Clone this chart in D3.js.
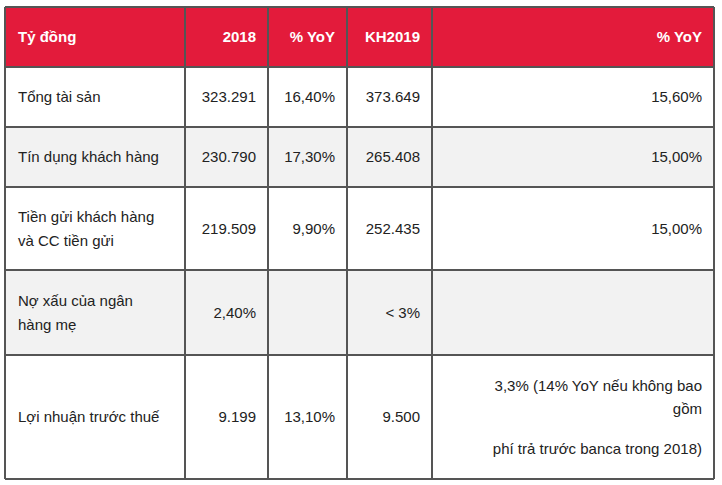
<!doctype html>
<html>
<head>
<meta charset="utf-8">
<script src="https://cdn.jsdelivr.net/npm/d3@7"></script>
<style>
  body { margin: 0; background: #fff; }
  text { font-family: "Liberation Sans", Arial, sans-serif; font-size: 15px; }
</style>
</head>
<body>
<script>
// Table content
const headers = ["Tỷ đồng", "2018", "% YoY", "KH2019", "% YoY"];
const labels = [
  ["Tổng tài sản"],
  ["Tín dụng khách hàng"],
  ["Tiền gửi khách hàng", "và CC tiền gửi"],
  ["Nợ xấu của ngân", "hàng mẹ"],
  ["Lợi nhuận trước thuế"]
];
const values2018 = ["323.291", "230.790", "219.509", "2,40%", "9.199"];
const yoy2018 = ["16,40%", "17,30%", "9,90%", "", "13,10%"];
const plan2019 = ["373.649", "265.408", "252.435", "< 3%", "9.500"];
const yoyPlan = [["15,60%"], ["15,00%"], ["15,00%"], [""],
  ["3,3% (14% YoY nếu không bao", "gồm", "", "phí trả trước banca trong 2018)"]];

// Layout
const width = 722, height = 485;
const colEdges = [5, 185, 268, 347, 432, 714];
const rowEdges = [7, 67, 127, 187, 270, 355, 479];
const lineH = 24;

const svg = d3.select("body").append("svg")
    .attr("width", width).attr("height", height);

const rows = [headers].concat(labels.map((l, i) => [l, [values2018[i]], [yoy2018[i]], [plan2019[i]], yoyPlan[i]]));

rows.forEach((row, r) => {
  const y0 = rowEdges[r], y1 = rowEdges[r + 1];
  const fill = r === 0 ? "#e31b3b" : (r % 2 === 0 ? "#f2f2f2" : "#ffffff");
  svg.append("rect")
      .attr("x", colEdges[0]).attr("y", y0)
      .attr("width", colEdges[5] - colEdges[0]).attr("height", y1 - y0)
      .attr("fill", fill);
  row.forEach((cell, c) => {
    const lines = Array.isArray(cell) ? cell : [cell];
    const left = c === 0;
    const x = left ? colEdges[c] + 13 : colEdges[c + 1] - 12;
    const gaps = lines.map(s => s === "" ? 17 : 23);
    let total = lineH * 0;
    const offs = [];
    lines.forEach((s, i) => { offs.push(total); if (i < lines.length - 1) total += (lines.length > 2 ? (lines[i + 1] === "" || s === "" ? (s === "" ? 17 : 23) : 23) : lineH); });
    const mid = (y0 + y1) / 2;
    lines.forEach((s, i) => {
      if (!s) return;
      svg.append("text")
          .attr("x", x)
          .attr("y", mid - total / 2 + offs[i] + 5)
          .attr("text-anchor", left ? "start" : "end")
          .attr("fill", r === 0 ? "#fff" : "#222")
          .attr("font-weight", r === 0 ? "bold" : null)
          .text(s);
    });
  });
});

// Grid lines
svg.append("g").attr("stroke", "#555").attr("stroke-width", 2)
  .call(g => g.selectAll("line.h").data(rowEdges).join("line")
      .attr("x1", colEdges[0]).attr("x2", colEdges[5])
      .attr("y1", d => d).attr("y2", d => d))
  .call(g => g.selectAll("line.v").data(colEdges).join("line")
      .attr("y1", rowEdges[0]).attr("y2", rowEdges[6])
      .attr("x1", d => d).attr("x2", d => d));
</script>
</body>
</html>
